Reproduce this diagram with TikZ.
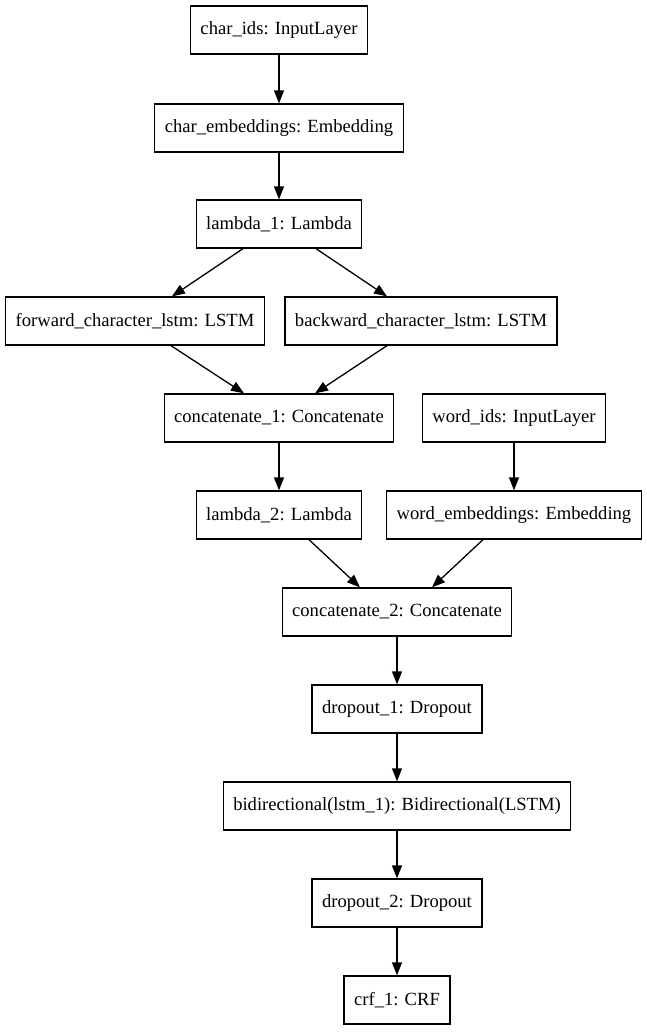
\documentclass[tikz,border=0pt]{standalone}
\usepackage{fontspec}
\setmainfont{Liberation Serif}
\usetikzlibrary{arrows.meta}

\tikzset{
    layer/.style={rectangle,draw,line width=1.3pt,inner xsep=10pt,minimum height=48pt,
        font=\fontsize{18.6}{22}\selectfont},
    flow/.style={-{Triangle[length=13pt,width=10pt]},line width=1.3pt}
    }

\begin{document}
\begin{tikzpicture}[x=1pt,y=-1pt]
                \useasboundingbox (0,0) rectangle (647,1033);
                % The Layers
                \node(cid)[layer] at (279,30) {char\_ids: InputLayer};
                \node(cemb)[layer] at (279,128) {char\_embeddings: Embedding};
                \node(lam1)[layer] at (279,224) {lambda\_1: Lambda};
                \node(fwd)[layer] at (135,321) {forward\_character\_lstm: LSTM};
                \node(bwd)[layer] at (421,321) {backward\_character\_lstm: LSTM};
                \node(cat1)[layer] at (279,418) {concatenate\_1: Concatenate};
                \node(wid)[layer] at (514,418) {word\_ids: InputLayer};
                \node(lam2)[layer] at (279,515) {lambda\_2: Lambda};
                \node(wemb)[layer] at (514,515) {word\_embeddings: Embedding};
                \node(cat2)[layer] at (397,612) {concatenate\_2: Concatenate};
                \node(drop1)[layer] at (397,709) {dropout\_1: Dropout};
                \node(bidi)[layer] at (397,806) {bidirectional(lstm\_1): Bidirectional(LSTM)};
                \node(drop2)[layer] at (397,903) {dropout\_2: Dropout};
                \node(crf)[layer] at (397,1000) {crf\_1: CRF};
                % The Edges
                \draw[flow] (cid) -- (cemb);
                \draw[flow] (cemb) -- (lam1);
                \draw[flow] ([xshift=-36]lam1.south) -- ([xshift=37]fwd.north);
                \draw[flow] ([xshift=37]lam1.south) -- ([xshift=-34]bwd.north);
                \draw[flow] ([xshift=36]fwd.south) -- ([xshift=-35]cat1.north);
                \draw[flow] ([xshift=-34]bwd.south) -- ([xshift=36]cat1.north);
                \draw[flow] (cat1) -- (lam2);
                \draw[flow] (wid) -- (wemb);
                \draw[flow] ([xshift=30]lam2.south) -- ([xshift=-37]cat2.north);
                \draw[flow] ([xshift=-31]wemb.south) -- ([xshift=35]cat2.north);
                \draw[flow] (cat2) -- (drop1);
                \draw[flow] (drop1) -- (bidi);
                \draw[flow] (bidi) -- (drop2);
                \draw[flow] (drop2) -- (crf);
            \end{tikzpicture}
\end{document}
